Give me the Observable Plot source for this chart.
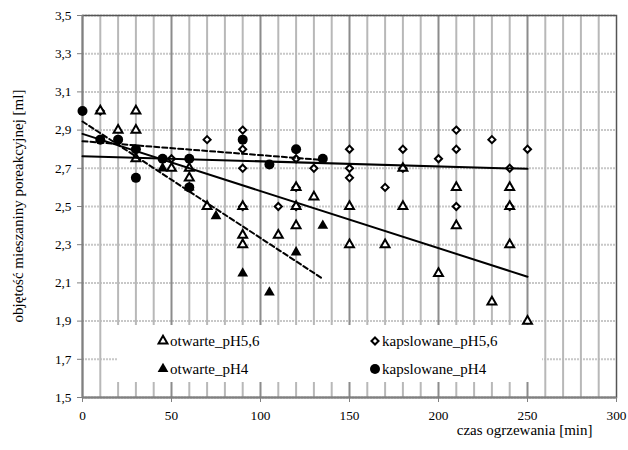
<!DOCTYPE html>
<html><head><meta charset="utf-8">
<script src="https://cdn.jsdelivr.net/npm/d3@7"></script>
<script src="https://cdn.jsdelivr.net/npm/@observablehq/plot@0.6"></script>
<style>
body{margin:0;background:#fff;}
#wrap{position:relative;width:628px;height:450px;font-family:"Liberation Serif","Times New Roman",serif;}
#legend{position:absolute;left:0;top:0;pointer-events:none;}
</style></head><body><div id="wrap"></div>
<script>
// ---- data ----
const seriesNames = ["otwarte_pH5,6", "kapslowane_pH5,6", "otwarte_pH4", "kapslowane_pH4"];

const otwarte56X = [10, 20, 30, 30, 30, 50, 60, 60, 70, 90, 90, 90, 110, 120, 120, 120, 130, 150, 150, 170, 180, 180, 200, 210, 210, 230, 240, 240, 240, 250];
const otwarte56Y = [3.0, 2.9, 3.0, 2.9, 2.75, 2.7, 2.7, 2.65, 2.5, 2.5, 2.35, 2.3, 2.35, 2.6, 2.5, 2.4, 2.55, 2.5, 2.3, 2.3, 2.7, 2.5, 2.15, 2.6, 2.4, 2.0, 2.6, 2.5, 2.3, 1.9];

const kaps56X = [10, 50, 70, 90, 90, 90, 90, 110, 120, 120, 120, 130, 150, 150, 150, 170, 180, 180, 200, 210, 210, 210, 230, 240, 240, 250];
const kaps56Y = [3.0, 2.75, 2.85, 2.9, 2.8, 2.7, 2.5, 2.5, 2.75, 2.6, 2.5, 2.7, 2.8, 2.7, 2.65, 2.6, 2.8, 2.7, 2.75, 2.9, 2.8, 2.5, 2.85, 2.7, 2.5, 2.8];

const otwarte4X = [45, 60, 75, 90, 105, 120, 135];
const otwarte4Y = [2.7, 2.6, 2.45, 2.15, 2.05, 2.26, 2.4];

const kaps4X = [0, 10, 20, 30, 30, 45, 60, 60, 90, 105, 120, 135];
const kaps4Y = [3.0, 2.85, 2.85, 2.8, 2.65, 2.75, 2.75, 2.6, 2.85, 2.72, 2.8, 2.75];

// linear trend lines (as drawn in the reference)
const trendSeries = ["otwarte_pH5,6", "kapslowane_pH5,6", "otwarte_pH4", "kapslowane_pH4"];
const trendIntercept = [2.88, 2.763, 2.945, 2.842];
const trendSlope = [-0.00299, -0.000264, -0.0061, -0.00073];
const trendEnd = [250, 250, 135, 135];
const trendDashed = [false, false, true, true];

const yTicks = [1.5, 1.7, 1.9, 2.1, 2.3, 2.5, 2.7, 2.9, 3.1, 3.3, 3.5];
const xTicks = [0, 50, 100, 150, 200, 250, 300];
const xMinorGrid = [10, 20, 30, 40, 60, 70, 80, 90, 110, 120, 130, 140, 160, 170, 180, 190, 210, 220, 230, 240, 260, 270, 280, 290];
const xMajorGrid = [50, 100, 150, 200, 250];

const xTitle = "czas ogrzewania [min]";
const yTitle = "objętość mieszaniny poreakcyjnej [ml]";

// ---- build tables ----
const pts = (xs, ys) => xs.map((x, i) => ({x, y: ys[i]}));
const dOtw56 = pts(otwarte56X, otwarte56Y);
const dKap56 = pts(kaps56X, kaps56Y);
const dOtw4 = pts(otwarte4X, otwarte4Y);
const dKap4 = pts(kaps4X, kaps4Y);
const trendData = trendSeries.flatMap((s, i) => [
  {s, x: 0, y: trendIntercept[i], dashed: trendDashed[i]},
  {s, x: trendEnd[i], y: trendIntercept[i] + trendSlope[i] * trendEnd[i], dashed: trendDashed[i]}
]);
const fmt = v => d3.format(".1f")(v).replace(".", ",");
const FONT = '"Liberation Serif", "Times New Roman", serif';

const chart = Plot.plot({
  width: 628, height: 450,
  marginLeft: 82, marginRight: 12, marginTop: 15, marginBottom: 53,
  style: {fontFamily: FONT, fontSize: "13.3px", color: "#000", background: "#fff"},
  x: {domain: [0, 300]},
  y: {domain: [1.5, 3.5]},
  marks: [
    Plot.ruleY(yTicks, {stroke: "#c8c8c8", strokeWidth: 2, strokeDasharray: "2,1"}),
    Plot.ruleX(xMinorGrid, {stroke: "#b8b8b8", strokeWidth: 2}),
    Plot.ruleX(xMajorGrid, {stroke: "#8c8c8c", strokeWidth: 2}),
    Plot.frame({stroke: "#555", strokeWidth: 1.5}),
    Plot.ruleX([0], {stroke: "#808080", strokeWidth: 2}),
    Plot.ruleY([1.5], {stroke: "#808080", strokeWidth: 2}),
    Plot.axisY(yTicks, {tickFormat: fmt, tickSize: 5, tickPadding: 6, stroke: "#808080", label: null, fontSize: 13.3, fontFamily: FONT}),
    Plot.axisX(xTicks, {tickSize: 5, tickPadding: 8, stroke: "#808080", label: null, fontSize: 13.3, fontFamily: FONT}),
    Plot.text([xTitle], {frameAnchor: "bottom-right", dx: -24, dy: 37, textAnchor: "end", fontSize: 15, fontFamily: FONT}),
    Plot.dot(dKap56, {x: "x", y: "y", symbol: "diamond2", r: 3.2, fill: "#fff", stroke: "#000", strokeWidth: 2}),
    Plot.dot(dOtw56, {x: "x", y: "y", symbol: "triangle", r: 3.3, fill: "#fff", stroke: "#000", strokeWidth: 2}),
    Plot.dot(dOtw4, {x: "x", y: "y", symbol: "triangle", r: 4, fill: "#000", stroke: "none"}),
    Plot.dot(dKap4, {x: "x", y: "y", symbol: "circle", r: 5, fill: "#000", stroke: "none"}),
    Plot.line(trendData.filter(d => !d.dashed), {x: "x", y: "y", z: "s", stroke: "#000", strokeWidth: 2}),
    Plot.line(trendData.filter(d => d.dashed), {x: "x", y: "y", z: "s", stroke: "#000", strokeWidth: 2, strokeDasharray: "5,3"})
  ]
});
const wrap = document.getElementById("wrap");
wrap.appendChild(chart);

// ---- overlay: y title and legend (inside plot area, white box) ----
const lg = d3.select(wrap).append("svg").attr("id", "legend").attr("width", 628).attr("height", 450);
lg.append("text").attr("transform", "translate(23,206) rotate(-90)").attr("text-anchor", "middle")
  .style("font-family", FONT).attr("font-size", 15).attr("fill", "#000").text(yTitle);
lg.append("rect").attr("x", 117).attr("y", 325).attr("width", 425).attr("height", 57).attr("fill", "#fff");
const legendItems = [
  {name: seriesNames[0], cx: 163, cy: 341, sym: d3.symbolTriangle, size: Math.PI * 3.3 * 3.3, fill: "#fff", stroke: "#000", sw: 2},
  {name: seriesNames[2], cx: 163, cy: 369, sym: d3.symbolTriangle, size: Math.PI * 4 * 4, fill: "#000", stroke: "none", sw: 0},
  {name: seriesNames[1], cx: 375, cy: 341, sym: d3.symbolDiamond2, size: Math.PI * 3.2 * 3.2, fill: "#fff", stroke: "#000", sw: 2},
  {name: seriesNames[3], cx: 375, cy: 369, sym: d3.symbolCircle, size: Math.PI * 5 * 5, fill: "#000", stroke: "none", sw: 0}
];
legendItems.forEach(it => {
  lg.append("path").attr("d", d3.symbol(it.sym, it.size)()).attr("transform", `translate(${it.cx},${it.cy})`)
    .attr("fill", it.fill).attr("stroke", it.stroke).attr("stroke-width", it.sw);
  lg.append("text").attr("x", it.cx + 7).attr("y", it.cy + 5).style("font-family", FONT).attr("font-size", 15)
    .attr("fill", "#000").text(it.name);
});
</script></body></html>
